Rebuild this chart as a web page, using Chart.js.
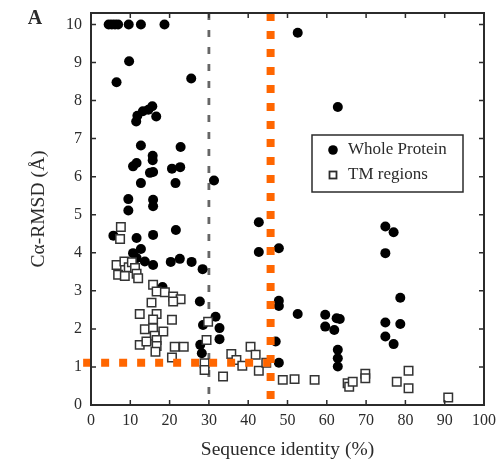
<!DOCTYPE html>
<html><head><meta charset="utf-8">
<script src="https://cdn.jsdelivr.net/npm/chart.js@4.4.1/dist/chart.umd.min.js"></script>
<style>html,body{margin:0;padding:0;background:#fff;}</style>
</head><body>
<canvas id="c" width="497" height="466"></canvas>
<script>
// ---- data ----
const wholeX = [4.5,5.3,6.1,6.9,9.6,12.7,18.7,9.7,6.5,25.5,
  11.5,11.8,13.2,14.6,15.6,16.6,12.7,22.8,15.7,15.7,
  11.6,10.7,15.0,15.8,20.6,22.7,12.7,21.5,31.3,9.5,
  15.8,15.8,9.5,21.6,5.7,11.6,15.8,12.7,10.7,11.6,
  13.7,15.8,20.3,22.6,25.6,28.4,18.2,27.7,28.5,27.8,
  28.2,42.7,42.7,47.8,47.8,47.8,52.6,31.7,32.7,32.7,
  47.0,47.8,59.6,62.5,63.3,59.6,61.9,62.8,62.8,62.8,
  52.6,62.8,74.9,77.0,74.9,78.7,74.9,78.7,74.9,77.0];
const wholeY = [10,10,10,10,10,10,10,9.03,8.48,8.58,
  7.45,7.6,7.72,7.76,7.85,7.58,6.82,6.78,6.55,6.43,
  6.36,6.27,6.1,6.12,6.21,6.25,5.83,5.83,5.9,5.41,
  5.39,5.22,5.11,4.6,4.45,4.39,4.47,4.1,3.99,3.86,
  3.77,3.68,3.76,3.84,3.76,3.57,3.1,2.72,2.1,1.58,
  1.36,4.8,4.02,4.12,2.74,2.6,2.39,2.32,2.02,1.73,
  1.67,1.11,2.37,2.28,2.26,2.06,1.97,1.45,1.23,1.01,
  9.78,7.83,4.69,4.54,3.99,2.82,2.17,2.13,1.8,1.6];
const tmX = [7.6,7.4,6.5,8.5,9.6,10.4,11.2,6.9,8.6,11.6,12.0,
  15.8,16.7,18.8,20.9,22.8,20.9,15.4,
  12.4,16.7,15.8,20.6,13.7,15.8,18.4,16.2,12.4,14.1,16.7,16.7,16.4,21.3,23.6,20.6,
  29.8,29.4,28.9,28.9,33.6,35.7,37.0,38.5,40.6,41.9,42.7,44.6,
  48.8,51.8,56.9,65.3,65.7,66.6,69.8,69.8,77.8,80.8,80.8,90.9];
const tmY = [4.68,4.36,3.68,3.77,3.62,3.75,3.6,3.42,3.39,3.45,3.33,
  3.16,2.98,2.96,2.85,2.78,2.72,2.69,
  2.39,2.39,2.25,2.24,1.99,2.02,1.93,1.82,1.58,1.67,1.71,1.55,1.4,1.53,1.53,1.25,
  2.19,1.71,1.1,0.92,0.75,1.34,1.18,1.03,1.53,1.32,0.9,1.11,
  0.66,0.68,0.66,0.57,0.48,0.61,0.82,0.7,0.61,0.9,0.44,0.2];
const xTicks = [0,10,20,30,40,50,60,70,80,90,100];
const yTicks = [0,1,2,3,4,5,6,7,8,9,10];
const greyLineX = [30,30],    greyLineY = [10.3,0];
const orangeVX = [45.7,45.7], orangeVY = [10.3,0];
const orangeHX = [-2,45.7],   orangeHY = [1.11,1.11];
const seriesLabels = ['Whole Protein','TM regions'];
const xTitle = 'Sequence identity (%)';
const yTitle = 'Cα-RMSD (Å)';
const panelLabel = 'A';
// --------------------------------------

const pts = (xs, ys) => xs.map((x, i) => ({x, y: ys[i]}));
const FONT = "'Liberation Serif', 'Times New Roman', serif";
const INK = '#2b2b2b';
const ORANGE = '#ff6600';

const framePlugin = {
  id: 'frameTicks',
  afterDatasetsDraw(chart) {
    const {ctx, chartArea: a, scales: {x, y}} = chart;
    ctx.save();
    ctx.strokeStyle = INK;
    ctx.lineWidth = 2;
    ctx.strokeRect(a.left, a.top, a.right - a.left, a.bottom - a.top);
    ctx.lineWidth = 1.5;
    ctx.beginPath();
    x.ticks.forEach(t => {
      const p = x.getPixelForValue(t.value);
      ctx.moveTo(p, a.bottom); ctx.lineTo(p, a.bottom - 5);
      ctx.moveTo(p, a.top); ctx.lineTo(p, a.top + 5);
    });
    y.ticks.forEach(t => {
      const p = y.getPixelForValue(t.value);
      ctx.moveTo(a.left, p); ctx.lineTo(a.left + 5, p);
      ctx.moveTo(a.right, p); ctx.lineTo(a.right - 5, p);
    });
    ctx.stroke();
    ctx.restore();
  },
  afterDraw(chart) {
    const {ctx} = chart;
    ctx.save();
    // panel label
    ctx.fillStyle = INK;
    ctx.font = "bold 20px " + FONT;
    ctx.textAlign = 'center'; ctx.textBaseline = 'middle';
    ctx.fillText(panelLabel, 35, 19);
    // legend
    const bx = 312, by = 135, bw = 151, bh = 57;
    ctx.fillStyle = '#fff';
    ctx.fillRect(bx, by, bw, bh);
    ctx.strokeStyle = INK; ctx.lineWidth = 1.5;
    ctx.strokeRect(bx, by, bw, bh);
    seriesLabels.forEach((lab, i) => {
      const d = chart.data.datasets.find(s => s.label === lab);
      const cy = by + 15 + i * 25, cx = bx + 21;
      if (d.pointStyle === 'rect') {
        ctx.fillStyle = '#fff'; ctx.strokeStyle = INK; ctx.lineWidth = 1.8;
        ctx.fillRect(cx - 3.5, cy - 3.5, 7, 7);
        ctx.strokeRect(cx - 3.5, cy - 3.5, 7, 7);
      } else {
        ctx.fillStyle = '#000';
        ctx.beginPath(); ctx.arc(cx, cy, 4.8, 0, Math.PI * 2); ctx.fill();
      }
      ctx.fillStyle = INK;
      ctx.font = "17px " + FONT;
      ctx.textAlign = 'left'; ctx.textBaseline = 'middle';
      ctx.fillText(d.label, bx + 36, cy);
    });
    ctx.restore();
  }
};

new Chart(document.getElementById('c'), {
  type: 'scatter',
  data: {
    datasets: [
      {label: 'orangeV', data: pts(orangeVX, orangeVY), showLine: true, borderColor: ORANGE,
       borderWidth: 8, borderDash: [8, 10], borderCapStyle: 'butt', pointRadius: 0, clip: false},
      {label: 'orangeH', data: pts(orangeHX, orangeHY), showLine: true, borderColor: ORANGE,
       borderWidth: 8, borderDash: [8, 10], borderCapStyle: 'butt', pointRadius: 0, clip: false},
      {label: seriesLabels[1], data: pts(tmX, tmY), pointStyle: 'rect', pointRadius: 6,
       backgroundColor: '#ffffff', borderColor: '#333', borderWidth: 1.5},
      {label: seriesLabels[0], data: pts(wholeX, wholeY), pointStyle: 'circle', pointRadius: 5,
       backgroundColor: '#000', borderColor: '#000', borderWidth: 0},
      {label: 'grey', data: pts(greyLineX, greyLineY), showLine: true, borderColor: '#666',
       borderWidth: 2.8, borderDash: [7, 10], borderCapStyle: 'butt', pointRadius: 0}
    ]
  },
  options: {
    responsive: false,
    animation: false,
    devicePixelRatio: 1,
    layout: {padding: {top: 13, right: 13, left: 0, bottom: 0}},
    plugins: {legend: {display: false}, tooltip: {enabled: false}},
    scales: {
      x: {
        type: 'linear', min: 0, max: 100,
        afterBuildTicks: s => { s.ticks = xTicks.map(v => ({value: v})); },
        afterFit: s => { s.height = 61; s.paddingLeft = 0; s.paddingRight = 0; },
        grid: {display: false, drawTicks: false},
        border: {display: false},
        ticks: {color: INK, font: {family: FONT, size: 16}, padding: 6, maxRotation: 0, autoSkip: false},
        title: {display: true, text: xTitle, color: INK, font: {family: FONT, size: 19.5}, padding: {top: 0, bottom: 4}}
      },
      y: {
        type: 'linear', min: 0, max: 10.3,
        afterBuildTicks: s => { s.ticks = yTicks.map(v => ({value: v})); },
        afterFit: s => { s.width = 91; s.paddingTop = 0; s.paddingBottom = 0; },
        grid: {display: false, drawTicks: false},
        border: {display: false},
        ticks: {color: INK, font: {family: FONT, size: 16}, padding: 9, autoSkip: false},
        title: {display: true, text: yTitle, color: INK, font: {family: FONT, size: 19.5}, padding: {top: 27, bottom: 0}}
      }
    }
  },
  plugins: [framePlugin]
});
</script>
</body></html>
